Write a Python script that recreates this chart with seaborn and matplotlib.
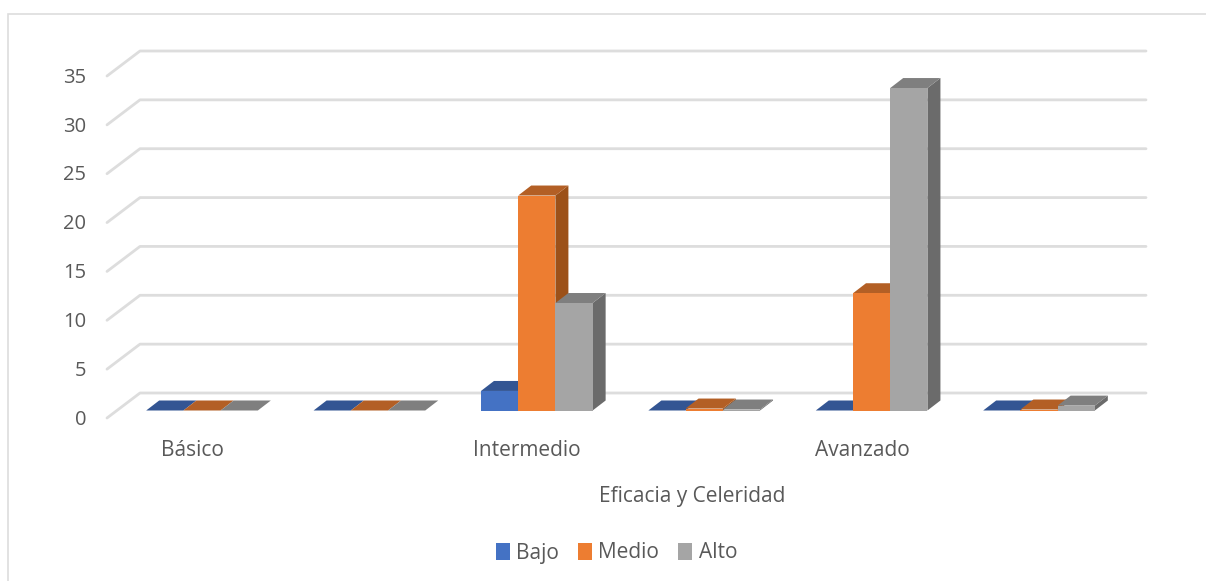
import matplotlib
matplotlib.use('Agg')
import matplotlib.pyplot as plt
from matplotlib.lines import Line2D
from matplotlib.patches import Patch, Polygon, Rectangle
from matplotlib.transforms import ScaledTranslation
import pandas as pd
import seaborn as sns

# values
categorias = ['Básico', ' ', 'Intermedio', '  ', 'Avanzado', '   ']
bajo = [0, 0, 2, 0, 0, 0]
medio = [0, 0, 22, 0.2, 12, 0.1]
alto = [0, 0, 11, 0.1, 33, 0.5]
ticks_y = [0, 5, 10, 15, 20, 25, 30, 35]

series = ['Bajo', 'Medio', 'Alto']
frente = ['#4472C4', '#ED7D31', '#A5A5A5']
techo = ['#335593', '#B35F25', '#7F7F7F']
lateral = ['#2A4A80', '#9C5119', '#6B6B6B']
texto = '#595959'
rejilla = '#DDDDDD'

df = pd.DataFrame({
    'categoria': categorias * 3,
    'serie': [s for s in series for _ in categorias],
    'valor': bajo + medio + alto,
})

W, H = 1206, 581
sns.set_style('white')
plt.rcParams['font.family'] = ['Open Sans', 'DejaVu Sans']

fig = plt.figure(figsize=(W / 100, H / 100), dpi=100)
# the axes is the plane of the bars' front faces
left, right, base, top = 118.3, 1122.7, 410.5, 68.5
ax = fig.add_axes([left / W, 1 - base / H, (right - left) / W, (base - top) / H])

sns.barplot(data=df, x='categoria', y='valor', hue='serie', hue_order=series,
            palette=frente, saturation=1, width=0.667, gap=0, legend=False,
            order=categorias, ax=ax)
ax.set_xlim(-0.5, 5.5)
ax.set_ylim(0, 35)

px_x = 6 / (right - left)  # data units per pixel
px_y = 35 / (base - top)

# fake 3D depth of each bar
dx, dy = 13 * px_x, 10 * px_y
for i, cont in enumerate(ax.containers):
    for bar in cont:
        x0, w, h = bar.get_x(), bar.get_width(), bar.get_height()
        x1 = x0 + w
        bar.set_zorder(3 + i * 3 + 2)
        bar.set_edgecolor('none')
        ax.add_patch(Polygon([(x1, 0), (x1 + dx, dy), (x1 + dx, h + dy), (x1, h)],
                             closed=True, fc=lateral[i], ec='none', clip_on=False,
                             zorder=3 + i * 3))
        ax.add_patch(Polygon([(x0, h), (x1, h), (x1 + dx, h + dy), (x0 + dx, h + dy)],
                             closed=True, fc=techo[i], ec='none', clip_on=False,
                             zorder=3 + i * 3 + 1))

# gridlines: short diagonal on the side wall, then along the back wall
izq_x, izq_y = -0.5 + (107 - left) * px_x, -7.5 * px_y
fondo_x, fondo_y = -0.5 + (140 - left) * px_x, 17.5 * px_y
fin_x = -0.5 + (1146 - left) * px_x
for t in ticks_y:
    ax.add_line(Line2D([izq_x, fondo_x, fin_x], [t + izq_y, t + fondo_y, t + fondo_y],
                       color=rejilla, lw=2, clip_on=False, zorder=1))

sns.despine(ax=ax, left=True, bottom=True, top=True, right=True)
ax.patch.set_alpha(0)

ax.set_yticks(ticks_y)
ax.set_xticks(range(len(categorias)))
ax.set_xticklabels(categorias)
ax.tick_params(axis='y', length=0, labelsize=14.5, labelcolor=texto, pad=23)
ax.tick_params(axis='x', length=0, labelsize=15, labelcolor=texto, pad=21.5)
abajo = ScaledTranslation(0, -4.8 / 72, fig.dpi_scale_trans)
izquierda = ScaledTranslation(-7 / 72, 0, fig.dpi_scale_trans)
for lbl in ax.get_yticklabels():
    lbl.set_transform(lbl.get_transform() + abajo)
for lbl in ax.get_xticklabels():
    lbl.set_transform(lbl.get_transform() + izquierda)

ax.set_xlabel('Eficacia y Celeridad', fontsize=15, color=texto)
ax.set_ylabel('')
ax.xaxis.set_label_coords((692 - left) / (right - left), -(496.5 - base) / (base - top),
                          transform=ax.transAxes)
ax.xaxis.label.set_verticalalignment('center')

handles = [Patch(fc=c, ec='none', label=s) for c, s in zip(frente, series)]
fig.legend(handles=handles, loc='center', bbox_to_anchor=(616.5 / W, 1 - 553 / H), ncol=3,
           frameon=False, fontsize=15, labelcolor=texto, handlelength=0.67,
           handleheight=0.9, handletextpad=0.3, columnspacing=0.92)

# outer chart frame
fig.add_artist(Rectangle((8 / W, -0.01), 1.1, 1.01 - 14 / H, transform=fig.transFigure,
                         fc='none', ec=rejilla, lw=1.2))

fig.savefig('out.png', dpi=100)
